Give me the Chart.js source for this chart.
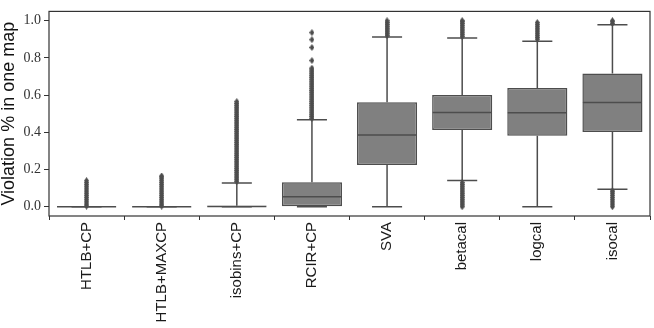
<!DOCTYPE html>
<html><head><meta charset="utf-8">
<script src="https://cdn.jsdelivr.net/npm/chart.js@4.4.1/dist/chart.umd.min.js"></script>
<style>html,body{margin:0;padding:0;background:#fff}</style>
</head><body>
<canvas id="c" width="654" height="328" style="width:654px;height:328px;display:block"></canvas>
<script>
const categories = ['HTLB+CP','HTLB+MAXCP','isobins+CP','RCIR+CP','SVA','betacal','logcal','isocal'];
const whiskerLow  = [0, 0, 0, 0, 0, 0.141, 0, 0.094];
const q1          = [0, 0, 0, 0.002, 0.224, 0.412, 0.381, 0.402];
const median      = [0, 0, 0.001, 0.053, 0.386, 0.507, 0.505, 0.560];
const q3          = [0, 0, 0.005, 0.131, 0.561, 0.600, 0.638, 0.716];
const whiskerHigh = [0, 0, 0.128, 0.468, 0.912, 0.907, 0.890, 0.978];
const yTicks = [0.0, 0.2, 0.4, 0.6, 0.8, 1.0];

const outHTLB = [0.003,0.01,0.02,0.03,0.04,0.05,0.06,0.07,0.08,0.09,0.10,0.11,0.12,0.13,0.14];
const outHTLBMAX = [0.003,0.01,0.02,0.03,0.04,0.05,0.06,0.07,0.08,0.09,0.10,0.11,0.12,0.13,0.14,0.15,0.16,0.165];
const outIsobins = [0.135,0.145,0.155,0.165,0.175,0.185,0.195,0.205,0.215,0.225,0.235,0.245,0.255,0.265,0.275,0.285,0.295,0.305,0.315,0.325,0.335,0.345,0.355,0.365,0.375,0.385,0.395,0.405,0.415,0.425,0.435,0.445,0.455,0.465,0.475,0.485,0.495,0.505,0.515,0.525,0.535,0.545,0.555,0.565];
const outRCIR = [0.475,0.485,0.495,0.505,0.515,0.525,0.535,0.545,0.555,0.565,0.575,0.585,0.595,0.605,0.615,0.625,0.635,0.645,0.655,0.665,0.675,0.685,0.695,0.705,0.715,0.725,0.735,0.745,0.786,0.856,0.898,0.936];
const outSVA = [0.92,0.93,0.94,0.95,0.96,0.97,0.98,0.99,1.0];
const outBeta = [0.0,0.01,0.02,0.03,0.04,0.05,0.06,0.07,0.08,0.09,0.10,0.11,0.12,0.13,0.915,0.925,0.935,0.945,0.955,0.965,0.975,0.985,0.995,1.0];
const outLog = [0.90,0.91,0.92,0.93,0.94,0.95,0.96,0.97,0.98,0.99];
const outIso = [0.0,0.01,0.02,0.03,0.04,0.05,0.06,0.07,0.08,0.085,0.985,0.995,1.0];
const outliers = [outHTLB, outHTLBMAX, outIsobins, outRCIR, outSVA, outBeta, outLog, outIso];

const boxFill = '#808080';
const lineColor = '#4d4d4d';

// thin diamond marker
const marker = document.createElement('canvas');
marker.width = 5; marker.height = 7;
(function(){
  const m = marker.getContext('2d');
  m.fillStyle = lineColor;
  m.beginPath();
  m.moveTo(2.5,0); m.lineTo(5,3.5); m.lineTo(2.5,7); m.lineTo(0,3.5); m.closePath();
  m.fill();
})();

const outlierPoints = [];
categories.forEach((c,i)=>outliers[i].forEach(v=>outlierPoints.push({x:c,y:v})));

const boxPlugin = {
  id:'boxExtras',
  beforeDatasetsDraw(chart){
    const {ctx, scales:{x,y}} = chart;
    const step = x.getPixelForValue(1) - x.getPixelForValue(0);
    const capHalf = step*0.8*0.25;
    ctx.save();
    ctx.strokeStyle = lineColor; ctx.lineWidth = 1.5;
    categories.forEach((c,i)=>{
      const cx = x.getPixelForValue(i);
      ctx.beginPath();
      ctx.moveTo(cx, y.getPixelForValue(q1[i])); ctx.lineTo(cx, y.getPixelForValue(whiskerLow[i]));
      ctx.moveTo(cx, y.getPixelForValue(q3[i])); ctx.lineTo(cx, y.getPixelForValue(whiskerHigh[i]));
      const yl = y.getPixelForValue(whiskerLow[i]), yh = y.getPixelForValue(whiskerHigh[i]);
      ctx.moveTo(cx-capHalf, yl); ctx.lineTo(cx+capHalf, yl);
      ctx.moveTo(cx-capHalf, yh); ctx.lineTo(cx+capHalf, yh);
      ctx.stroke();
    });
    ctx.restore();
  },
  afterDatasetsDraw(chart){
    const {ctx, scales:{x,y}, chartArea:a} = chart;
    const step = x.getPixelForValue(1) - x.getPixelForValue(0);
    const half = step*0.8/2;
    ctx.save();
    ctx.strokeStyle = lineColor; ctx.lineWidth = 1.5;
    categories.forEach((c,i)=>{
      const cx = x.getPixelForValue(i);
      const ym = y.getPixelForValue(median[i]);
      ctx.beginPath(); ctx.moveTo(cx-half+0.5, ym); ctx.lineTo(cx+half-0.5, ym); ctx.stroke();
    });
    ctx.strokeStyle = '#333'; ctx.lineWidth = 1.2;
    ctx.strokeRect(a.left, a.top, a.right-a.left, a.bottom-a.top);
    ctx.restore();
  }
};

new Chart(document.getElementById('c'), {
  type:'bar',
  data:{
    labels: categories,
    datasets:[
      {
        type:'bar',
        data: categories.map((c,i)=>[q1[i], q3[i]]),
        backgroundColor: boxFill,
        borderColor: lineColor,
        borderWidth: 1.5,
        borderSkipped: false,
        barPercentage: 0.8,
        categoryPercentage: 1.0,
        order: 2
      },
      {
        type:'line',
        data: outlierPoints,
        showLine:false,
        pointStyle: marker,
        pointRadius: 3,
        pointHoverRadius: 3,
        order: 1
      }
    ]
  },
  options:{
    responsive:false,
    animation:false,
    devicePixelRatio:1,
    layout:{padding:{top:1,right:1,left:0,bottom:0}},
    plugins:{legend:{display:false}, tooltip:{enabled:false}},
    scales:{
      x:{
        type:'category',
        offset:true,
        grid:{display:true, drawOnChartArea:false, drawTicks:true, tickLength:4, color:'#333', lineWidth:1},
        border:{display:false},
        ticks:{autoSkip:false, minRotation:90, maxRotation:90, padding:2, color:'#1a1a1a',
               font:{family:"'Liberation Sans', Arial, sans-serif", size:15}},
        afterFit(s){ s.height = 112; }
      },
      y:{
        min:-0.05, max:1.05,
        grid:{display:true, drawOnChartArea:false, drawTicks:true, tickLength:5, color:'#333', lineWidth:1},
        border:{display:false},
        afterBuildTicks(s){ s.ticks = yTicks.map(v=>({value:v})); },
        ticks:{padding:3, color:'#333', font:{family:"'Liberation Serif', 'DejaVu Serif', serif", size:14},
               callback:(v)=>Number(v).toFixed(1)},
        title:{display:true, text:'Violation % in one map', color:'#111', padding:0,
               font:{family:"'Liberation Sans', Arial, sans-serif", size:18, lineHeight:1}},
        afterFit(s){ s.width = 49; }
      }
    }
  },
  plugins:[boxPlugin]
});
</script>
</body></html>
